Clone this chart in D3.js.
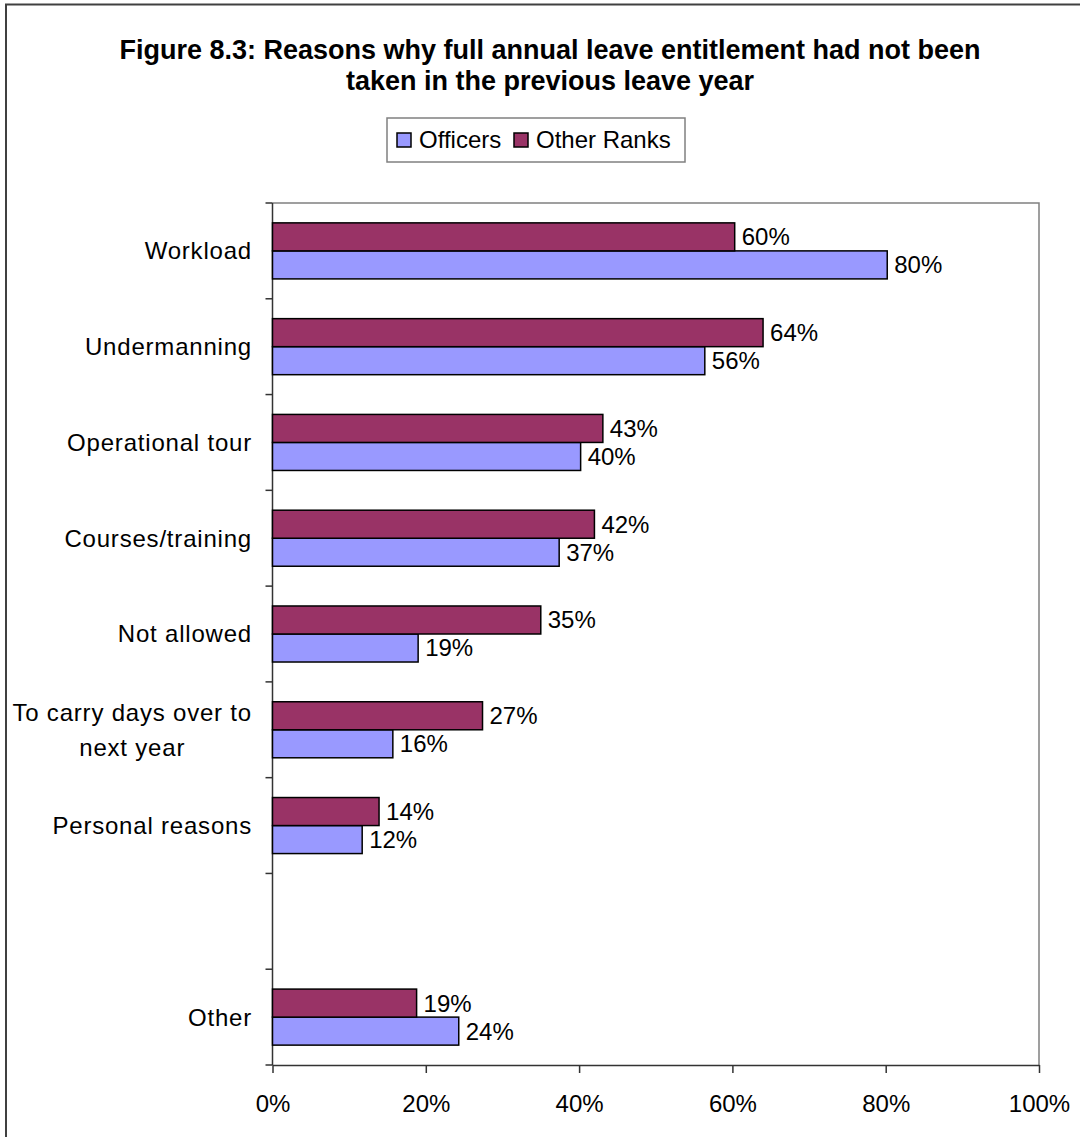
<!DOCTYPE html>
<html>
<head>
<meta charset="utf-8">
<script src="https://cdn.jsdelivr.net/npm/d3@7"></script>
<style>
  body { margin: 0; background: #fff; }
  svg text { font-family: "Liberation Sans", Arial, sans-serif; fill: #000; }
</style>
</head>
<body>
<div id="chart"></div>
<script>
// data (percent)
var categories = ["Workload", "Undermanning", "Operational tour", "Courses/training", "Not allowed",
                  "To carry days over to\nnext year", "Personal reasons", "", "Other"];
var officers   = [80.2, 56.4, 40.2, 37.4, 19.0, 15.7, 11.7, null, 24.3];
var otherRanks = [60.3, 64.0, 43.1, 42.0, 35.0, 27.4, 13.9, null, 18.8];
var xTicks = [0, 20, 40, 60, 80, 100];
var seriesNames = ["Officers", "Other Ranks"];
var seriesColors = ["#9999ff", "#993366"];

var width = 1080, height = 1137;
var plotLeft = 272.5, plotRight = 1039, plotTop = 203, plotBottom = 1065;

var svg = d3.select("#chart").append("svg")
  .attr("width", width)
  .attr("height", height);

// outer frame
svg.append("rect")
  .attr("x", 6).attr("y", 4.5)
  .attr("width", 1100).attr("height", 1160)
  .attr("fill", "none")
  .attr("stroke", "#404040")
  .attr("stroke-width", 2);

// title
var title = svg.append("text")
  .attr("text-anchor", "middle")
  .style("font-size", "27px")
  .style("font-weight", "bold");
title.append("tspan").attr("x", 550).attr("y", 59)
  .text("Figure 8.3: Reasons why full annual leave entitlement had not been");
title.append("tspan").attr("x", 550).attr("y", 90)
  .text("taken in the previous leave year");

var x = d3.scaleLinear()
  .domain([0, 100])
  .range([plotLeft, plotRight]);

var y = d3.scaleBand()
  .domain(d3.range(categories.length))
  .range([plotTop, plotBottom])
  .paddingInner(0.415)
  .paddingOuter(0.2075);

// other ranks on top, officers below
var ySub = d3.scaleBand()
  .domain(["otherRanks", "officers"])
  .range([0, y.bandwidth()]);

// plot area border (grey top + right)
svg.append("path")
  .attr("d", "M" + plotLeft + "," + plotTop + "H" + plotRight + "V" + plotBottom)
  .attr("fill", "none")
  .attr("stroke", "#808080")
  .attr("stroke-width", 1.5);

// x axis
var xAxis = svg.append("g")
  .attr("transform", "translate(0," + plotBottom + ")")
  .call(d3.axisBottom(x)
    .tickValues(xTicks)
    .tickFormat(function (d) { return d + "%"; })
    .tickSize(8)
    .tickSizeOuter(0)
    .tickPadding(22));
xAxis.select(".domain").attr("stroke", "#333").attr("stroke-width", 1.5);
xAxis.selectAll(".tick line").attr("stroke", "#333").attr("stroke-width", 1.5);
xAxis.selectAll(".tick text")
  .style("font-size", "24px")
  .style("font-family", "'Liberation Sans', Arial, sans-serif");

// y axis line and ticks at category boundaries
svg.append("line")
  .attr("x1", plotLeft).attr("x2", plotLeft)
  .attr("y1", plotTop).attr("y2", plotBottom)
  .attr("stroke", "#333").attr("stroke-width", 1.5);

var boundaries = d3.range(categories.length + 1).map(function (i) {
  return plotTop + i * y.step();
});
svg.selectAll(".yTick")
  .data(boundaries)
  .enter().append("line")
  .attr("class", "yTick")
  .attr("x1", plotLeft - 7).attr("x2", plotLeft)
  .attr("y1", function (d) { return d; })
  .attr("y2", function (d) { return d; })
  .attr("stroke", "#333").attr("stroke-width", 1.5);

// category labels (multi-line ones centred, right edge on 252)
var lineH = 35;
categories.forEach(function (c, i) {
  if (c === "") return;
  var lines = c.split("\n");
  var cy = y(i) + y.bandwidth() / 2;
  var t = svg.append("text")
    .attr("text-anchor", "middle")
    .style("font-size", "24px")
    .style("letter-spacing", "0.8px");
  lines.forEach(function (l, j) {
    t.append("tspan")
      .attr("y", cy - (lines.length - 1) * lineH / 2 + j * lineH)
      .attr("dy", "0.35em")
      .text(l);
  });
  var maxW = 0;
  t.selectAll("tspan").each(function () {
    maxW = Math.max(maxW, this.getComputedTextLength());
  });
  t.selectAll("tspan").attr("x", 252 - maxW / 2);
});

// bars
var rows = categories.map(function (c, i) {
  return { idx: i, officers: officers[i], otherRanks: otherRanks[i] };
});

var seriesKeys = ["officers", "otherRanks"];
seriesKeys.forEach(function (key, k) {
  var valid = rows.filter(function (d) { return d[key] != null; });

  svg.selectAll(".bar-" + key)
    .data(valid)
    .enter().append("rect")
    .attr("class", "bar-" + key)
    .attr("x", x(0))
    .attr("y", function (d) { return y(d.idx) + ySub(key); })
    .attr("width", function (d) { return x(d[key]) - x(0); })
    .attr("height", ySub.bandwidth())
    .attr("fill", seriesColors[k])
    .attr("stroke", "#000")
    .attr("stroke-width", 1.5);

  svg.selectAll(".lab-" + key)
    .data(valid)
    .enter().append("text")
    .attr("class", "lab-" + key)
    .attr("x", function (d) { return x(d[key]) + 7; })
    .attr("y", function (d) { return y(d.idx) + ySub(key) + ySub.bandwidth() / 2; })
    .attr("dy", "0.35em")
    .style("font-size", "24px")
    .text(function (d) { return Math.round(d[key]) + "%"; });
});

// legend
var legend = svg.append("g");
legend.append("rect")
  .attr("x", 387).attr("y", 118)
  .attr("width", 298).attr("height", 44)
  .attr("fill", "#fff")
  .attr("stroke", "#808080")
  .attr("stroke-width", 1.5);

var legendX = [397, 514];
seriesNames.forEach(function (name, i) {
  legend.append("rect")
    .attr("x", legendX[i]).attr("y", 133)
    .attr("width", 14).attr("height", 14)
    .attr("fill", seriesColors[i])
    .attr("stroke", "#000")
    .attr("stroke-width", 1.5);
  legend.append("text")
    .attr("x", legendX[i] + 22)
    .attr("y", 148)
    .style("font-size", "24px")
    .text(name);
});
</script>
</body>
</html>
